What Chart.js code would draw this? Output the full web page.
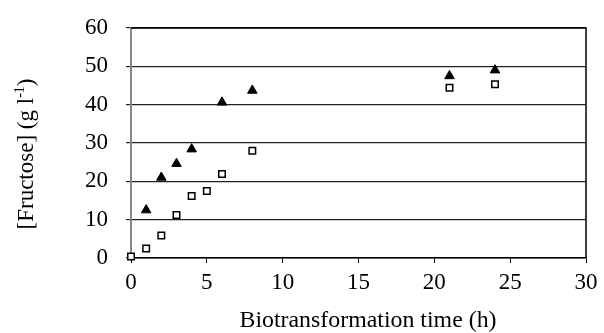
<!DOCTYPE html>
<html>
<head>
<meta charset="utf-8">
<script src="https://cdn.jsdelivr.net/npm/chart.js@4"></script>
<style>
  html, body { margin: 0; padding: 0; background: #fff; }
  #wrap { width: 604px; height: 333px; }
</style>
</head>
<body>
<div id="wrap"><canvas id="myChart" width="604" height="333"></canvas></div>
<script>
// values
const triangleTimes = [1, 2, 3, 4, 6, 8, 21, 24];
const triangleValues = [12.5, 21, 24.6, 28.4, 40.6, 43.7, 47.5, 49];
const squareTimes = [0, 1, 2, 3, 4, 5, 6, 8, 21, 24];
const squareValues = [0.4, 2.5, 5.9, 11.2, 16.2, 17.5, 21.9, 28, 44.4, 45.3];
const xTicks = [0, 5, 10, 15, 20, 25, 30];
const yTicks = [0, 10, 20, 30, 40, 50, 60];
const xTitle = 'Biotransformation time (h)';

const serif = "'Liberation Serif', 'Times New Roman', serif";
const fontSize = 23;

function toPoints(xs, ys) {
    return xs.map((x, i) => ({ x: x, y: ys[i] }));
}

// frame on top/right + axis titles (the y one has a superscript)
const framePlugin = {
    id: 'frame',
    afterDraw(chart) {
        const { ctx, chartArea: a } = chart;
        ctx.save();
        ctx.strokeStyle = '#000';
        ctx.lineWidth = 1.5;
        ctx.beginPath();
        ctx.moveTo(a.left, a.top);
        ctx.lineTo(a.right, a.top);
        ctx.lineTo(a.right, a.bottom);
        ctx.stroke();

        ctx.fillStyle = '#000';
        ctx.textBaseline = 'middle';

        // x title, slightly wide like the source
        ctx.save();
        ctx.font = fontSize + 'px ' + serif;
        ctx.textAlign = 'center';
        ctx.translate(368, 321);
        const tw = ctx.measureText(xTitle).width;
        ctx.scale(257 / tw, 1);
        ctx.fillText(xTitle, 0, 0);
        ctx.restore();

        // y title
        ctx.translate(27, 154);
        ctx.rotate(-Math.PI / 2);
        ctx.textAlign = 'left';
        const main = '[Fructose] (g l';
        ctx.font = fontSize + 'px ' + serif;
        const w1 = ctx.measureText(main).width;
        ctx.font = '14px ' + serif;
        const w2 = ctx.measureText('-1').width;
        ctx.font = fontSize + 'px ' + serif;
        const w3 = ctx.measureText(')').width;
        let x0 = -(w1 + w2 + w3) / 2;
        ctx.fillText(main, x0, 0);
        ctx.font = '14px ' + serif;
        ctx.fillText('-1', x0 + w1, -7);
        ctx.font = fontSize + 'px ' + serif;
        ctx.fillText(')', x0 + w1 + w2, 0);
        ctx.restore();
    }
};

let ctx = document.getElementById('myChart').getContext('2d');
let myChart = new Chart(ctx, {
    type: 'scatter',
    data: {
        datasets: [{
                label: 'triangles',
                data: toPoints(triangleTimes, triangleValues),
                pointStyle: 'triangle',
                pointRadius: 5.5,
                backgroundColor: '#000',
                borderColor: '#000',
                borderWidth: 1,
                clip: false
            },
            {
                label: 'squares',
                data: toPoints(squareTimes, squareValues),
                pointStyle: 'rect',
                pointRadius: 4.6,
                backgroundColor: '#fff',
                borderColor: '#000',
                borderWidth: 1.5,
                clip: false
            }
        ]
    },
    options: {
        responsive: false,
        animation: false,
        layout: {
            padding: { top: 28, right: 18, left: 0, bottom: 0 }
        },
        plugins: {
            legend: { display: false },
            tooltip: { enabled: false }
        },
        scales: {
            x: {
                type: 'linear',
                min: 0,
                max: 30,
                afterBuildTicks: (s) => { s.ticks = xTicks.map(v => ({ value: v })); },
                afterFit: (s) => { s.height = 75; },
                grid: {
                    drawOnChartArea: false,
                    drawTicks: true,
                    tickLength: 5,
                    color: '#000',
                    lineWidth: 1
                },
                border: { display: true, color: '#000', width: 1.5 },
                ticks: {
                    color: '#000',
                    padding: 6,
                    font: { family: serif, size: fontSize }
                }
            },
            y: {
                min: 0,
                max: 60,
                afterBuildTicks: (s) => { s.ticks = yTicks.map(v => ({ value: v })); },
                afterFit: (s) => { s.width = 131; },
                grid: {
                    drawOnChartArea: true,
                    drawTicks: true,
                    tickLength: 5,
                    color: '#222',
                    lineWidth: 1.2
                },
                border: { display: true, color: '#888', width: 2 },
                ticks: {
                    color: '#000',
                    padding: 18,
                    font: { family: serif, size: fontSize, lineHeight: 0.8 }
                }
            }
        }
    },
    plugins: [framePlugin]
});
</script>
</body>
</html>
